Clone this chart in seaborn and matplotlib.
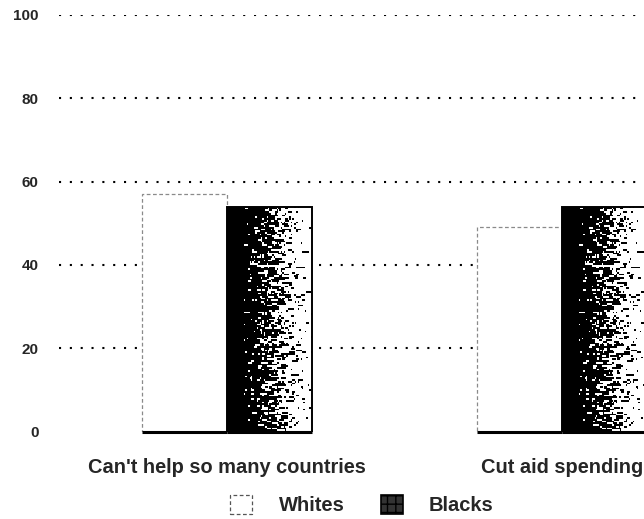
import numpy as np
import pandas as pd
import seaborn as sns
import matplotlib
matplotlib.use("Agg")
import matplotlib.pyplot as plt
from matplotlib.patches import Patch

# Survey responses on foreign aid, percent agreeing
categories = ["Can't help so many countries", "Cut aid spending"]
groups = ["Whites", "Blacks"]
whites = [57, 49]
blacks = [54, 54]
y_ticks = [0, 20, 40, 60, 80, 100]

df = pd.DataFrame({
    "statement": categories * 2,
    "group": [groups[0]] * len(categories) + [groups[1]] * len(categories),
    "percent": whites + blacks,
})

sns.set_theme(style="white")
plt.rcParams["font.family"] = ["Liberation Sans", "DejaVu Sans"]

fig = plt.figure(figsize=(6.44, 5.19), dpi=100)
ax = fig.add_axes([59.5 / 644, 87.5 / 519, 670 / 644, 416.5 / 519])

sns.barplot(data=df, x="statement", y="percent", hue="group",
            order=categories, hue_order=groups,
            palette={"Whites": "white", "Blacks": "black"},
            width=0.505, dodge=True, legend=False, ax=ax, zorder=3)

ax.set_xlim(-0.5, 1.5)
ax.set_ylim(0, 100)
ax.set_yticks(y_ticks)
ax.set_yticklabels([str(v) for v in y_ticks])

# dotted horizontal guides behind the bars
for v in y_ticks[1:]:
    ax.axhline(v, color="black", lw=1.5, ls=(0, (1, 4.2)), zorder=1)

# streaky black-to-white texture used for the darker series
rng = np.random.default_rng(7)
nx, ny = 60, 130
xs = np.linspace(0, 1, nx)
ramp = np.clip((xs - 0.18) / 0.8, 0, 1)
noise = rng.normal(0, 1.0, (ny, nx))
noise = (noise + np.roll(noise, 1, axis=1) + np.roll(noise, -1, axis=1)) / np.sqrt(3)
tex = ((ramp[None, :] + noise * 0.26) > 0.5).astype(float)
tex[:, xs < 0.2] = 0.0

white_bars, black_bars = ax.containers[0], ax.containers[1]
for p in white_bars:
    p.set_facecolor("white")
    p.set_edgecolor("#8a8a8a")
    p.set_linewidth(0.9)
    p.set_linestyle((0, (3, 2)))
for p in black_bars:
    p.set_facecolor("none")
    p.set_edgecolor("black")
    p.set_linewidth(1.4)
    x0, w, h = p.get_x(), p.get_width(), p.get_height()
    im = ax.imshow(tex, cmap="gray", vmin=0, vmax=1, aspect="auto",
                   extent=(x0, x0 + w, 0, h), origin="lower", zorder=3.5,
                   interpolation="nearest")
    im.set_clip_path(p)
    p.set_zorder(4)

# baseline under each bar
for p in list(white_bars) + list(black_bars):
    ax.plot([p.get_x(), p.get_x() + p.get_width()], [0, 0],
            color="black", lw=2.2, solid_capstyle="butt", zorder=5,
            clip_on=False)

ax.set_xlabel("")
ax.set_ylabel("")
for s in ax.spines.values():
    s.set_visible(False)
ax.tick_params(axis="y", length=0, pad=15, labelsize=11)
ax.tick_params(axis="x", length=0, pad=19, labelsize=14.4)
for t in ax.get_yticklabels() + ax.get_xticklabels():
    t.set_fontweight("bold")

handles = [
    Patch(facecolor="white", edgecolor="#555555", lw=0.9, ls=(0, (3, 2))),
    Patch(facecolor="#333333", edgecolor="black", lw=1.2, hatch="++"),
]
fig.legend(handles, groups, loc="center", bbox_to_anchor=(362 / 644, 14 / 519),
           ncol=2, frameon=False, handlelength=1.1, handleheight=1.1,
           handletextpad=1.3, columnspacing=1.8,
           prop={"weight": "bold", "size": 14.5})

fig.savefig("out.png", dpi=100, facecolor="white")
